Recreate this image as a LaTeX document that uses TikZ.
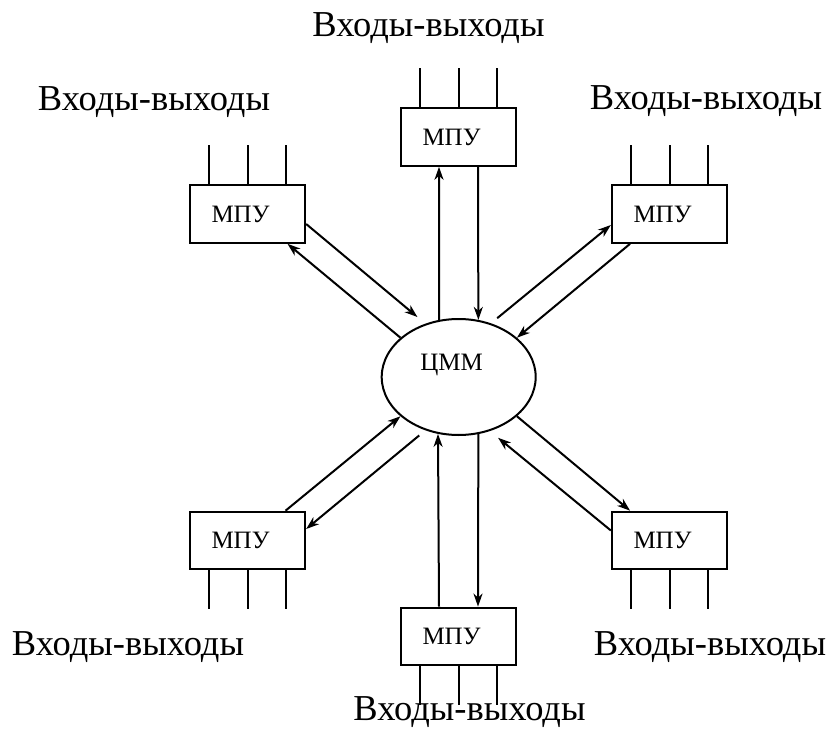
\documentclass[tikz,border=0pt]{standalone}
\usepackage{fontspec}
\setmainfont{Liberation Serif}
\usetikzlibrary{arrows.meta,shapes.geometric}
\tikzset{
  mpu/.style={draw, line width=2pt, minimum width=115.3pt, minimum height=57.6pt, inner sep=0pt, font=\fontsize{25}{28}\selectfont},
  cmmshape/.style={draw, ellipse, line width=2pt, minimum width=154pt, minimum height=116pt, inner sep=0pt, text height=0pt, text depth=14pt, font=\fontsize{25}{28}\selectfont},
  conn/.style={line width=2pt},
  arr/.style={conn, -{Stealth[length=13pt,width=9pt,inset=4pt]}},
  lbl/.style={font=\fontsize{36.5}{40}\selectfont, anchor=base, inner sep=0pt},
}
\begin{document}
\begin{tikzpicture}[x=1pt,y=-1pt]
\useasboundingbox (0,0) rectangle (831,733);
% central memory module
\node[cmmshape] (cmm) at (458.7,377) {ЦММ\hspace*{14pt}};
% peripheral units
\node[mpu] (t)  at (458.5,137)   {МПУ\hspace*{14pt}};
\node[mpu] (ul) at (247.5,214)   {МПУ\hspace*{14pt}};
\node[mpu] (ur) at (669.5,214)   {МПУ\hspace*{14pt}};
\node[mpu] (ll) at (247.5,540.5) {МПУ\hspace*{14pt}};
\node[mpu] (lr) at (669.5,540.5) {МПУ\hspace*{14pt}};
\node[mpu] (b)  at (458.5,636.4) {МПУ\hspace*{14pt}};
% labels
\node[lbl] (lt)  at (428.5,36.7) {Входы-выходы};
\node[lbl] (lul) at (154,111)    {Входы-выходы};
\node[lbl] (lur) at (706,110)    {Входы-выходы};
\node[lbl] (lll) at (128,655)    {Входы-выходы};
\node[lbl] (llr) at (710,655)    {Входы-выходы};
\node[lbl] (lb)  at (469.5,720)  {Входы-выходы};
% input/output stubs
\foreach \n in {t,ul,ur}{
  \foreach \dx in {-38.5,0,38.5}{
    \draw[conn] ([xshift=\dx pt]\n.north) -- ++(0,-39);
  }
}
\foreach \n in {ll,lr,b}{
  \foreach \dx in {-38.5,0,38.5}{
    \draw[conn] ([xshift=\dx pt]\n.south) -- ++(0,38.4);
  }
}
% connectors top / bottom
\draw[arr] (cmm.109.4) -- ([xshift=-19.5pt]t.south);
\draw[arr] ([xshift=19.5pt]t.south) -- (cmm.71);
\draw[arr] ([xshift=-19.5pt]b.north) -- (cmm.250.6);
\draw[arr] (cmm.289) -- ([xshift=19.5pt]b.north);
% upper left
\draw[arr, shorten >=10.3pt] ([yshift=-10pt]ul.east) -- (cmm.122);
\draw[arr] (cmm.146.4) -- ([xshift=40pt]ul.south);
% upper right
\draw[arr, shorten <=8pt] (cmm.59) -- ([yshift=-11pt]ur.west);
\draw[arr] ([xshift=-39.4pt]ur.south) -- (cmm.34.5);
% lower left
\draw[arr] ([xshift=38pt]ll.north) -- (cmm.214.1);
\draw[arr, shorten <=8pt] (cmm.238.5) -- ([yshift=11.5pt]ll.east);
% lower right
\draw[arr] (cmm.326.8) -- ([xshift=-39.4pt]lr.north);
\draw[arr, shorten >=10.6pt] ([yshift=10pt]lr.west) -- (cmm.300.6);
\end{tikzpicture}
\end{document}
